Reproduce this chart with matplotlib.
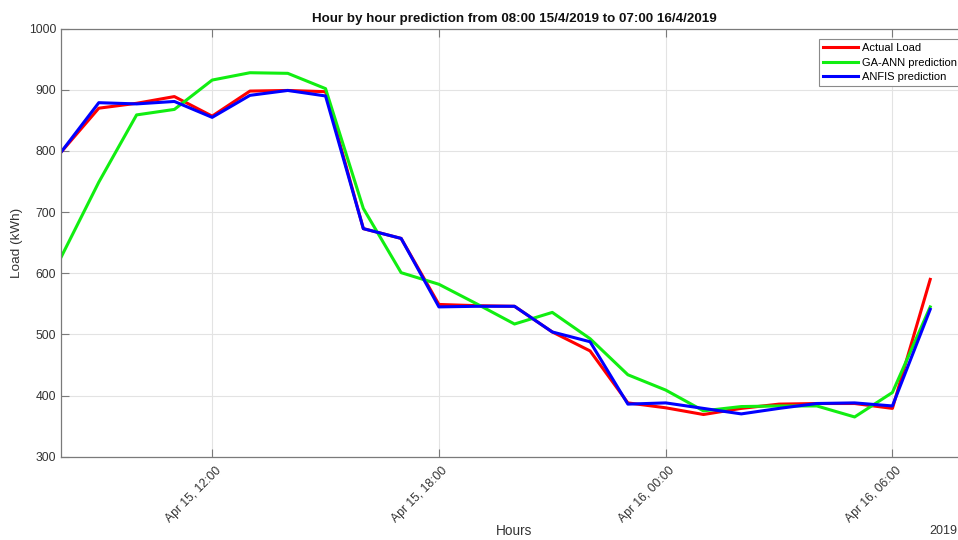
import matplotlib
matplotlib.use("Agg")
import matplotlib.pyplot as plt
import matplotlib.dates as mdates
import matplotlib.transforms as mtransforms
import pandas as pd

plt.rcParams['font.family'] = ['Liberation Sans', 'DejaVu Sans']

# Hourly timestamps, 08:00 15/4/2019 .. 07:00 16/4/2019
hours = pd.date_range("2019-04-15 08:00", "2019-04-16 07:00", freq="h")

actual_load = [798, 870, 878, 889, 857, 898, 899, 897, 673, 657, 549, 547,
               546, 504, 473, 388, 380, 369, 379, 386, 387, 387, 379, 590]
ga_ann_pred = [626, 749, 859, 868, 916, 928, 927, 902, 706, 601, 582, 550,
               517, 536, 493, 434, 409, 375, 382, 383, 383, 365, 405, 545]
anfis_pred = [798, 879, 877, 881, 855, 891, 899, 890, 673, 657, 545, 546,
              546, 504, 488, 386, 388, 379, 370, 379, 387, 388, 383, 541]

y_ticks = [300, 400, 500, 600, 700, 800, 900, 1000]

W, H = 958, 540
fig = plt.figure(figsize=(W / 100, H / 100), dpi=100)
left, right, top, bottom = 61, 968, 28.7, 456.7
ax = fig.add_axes([left / W, (H - bottom) / H, (right - left) / W, (bottom - top) / H])

ax.plot(hours, actual_load, color='#ff0000', lw=2.2, label='Actual Load')
ax.plot(hours, ga_ann_pred, color='#11ee11', lw=2.2, label='GA-ANN prediction')
ax.plot(hours, anfis_pred, color='#0000ff', lw=2.2, label='ANFIS prediction')

ax.set_xlim(pd.Timestamp("2019-04-15 08:00"), pd.Timestamp("2019-04-16 08:00"))
ax.set_ylim(300, 1000)
ax.set_yticks(y_ticks)
ax.xaxis.set_major_locator(mdates.HourLocator(byhour=[0, 6, 12, 18]))
ax.xaxis.set_major_formatter(mdates.DateFormatter('%b %d, %H:%M'))

ax.grid(True, color='#e3e3e3', lw=0.8)
ax.set_axisbelow(True)
for s in ax.spines.values():
    s.set_color('#7a7a7a')
    s.set_linewidth(0.9)
ax.tick_params(direction='in', top=True, right=True, length=6, width=0.8,
               color='#7a7a7a', labelcolor='#333333', labelsize=8.7)
ax.tick_params(axis='x', pad=6)

# rotated date labels, nudged so their ends sit just right of each tick
fig.canvas.draw()
shift = mtransforms.ScaledTranslation(7 / 100, -4 / 100, fig.dpi_scale_trans)
for lab in ax.get_xticklabels():
    lab.set_rotation(45)
    lab.set_ha('right')
    lab.set_va('center')
    lab.set_rotation_mode('anchor')
    lab.set_transform(lab.get_transform() + shift)

ax.set_title('Hour by hour prediction from 08:00 15/4/2019 to 07:00 16/4/2019',
             fontsize=9.6, fontweight='bold', color='#111111', pad=5)
ax.set_ylabel('Load (kWh)', fontsize=9.7, color='#333333', labelpad=4)
fig.text((left + right) / 2 / W, 1 - 531 / H, 'Hours', ha='center', va='center',
         fontsize=9.8, color='#333333')
fig.text(957 / W, 1 - 531 / H, '2019', ha='right', va='center',
         fontsize=9, color='#333333')

leg = ax.legend(loc='upper left', bbox_to_anchor=(819 / W, 1 - 39 / H),
                bbox_transform=fig.transFigure, fontsize=8, frameon=True,
                fancybox=False, framealpha=1, edgecolor='#8a8a8a',
                handlelength=3.2, handletextpad=0.35, borderpad=0.35,
                labelspacing=0.42, borderaxespad=0)
leg.get_frame().set_linewidth(0.8)

fig.savefig('out.png', dpi=100)
